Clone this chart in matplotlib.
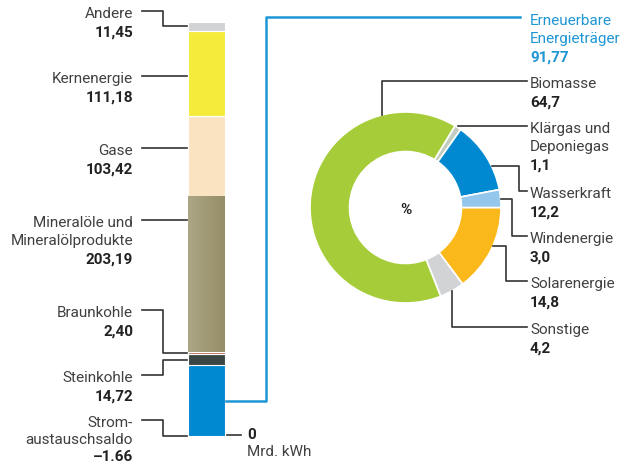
import numpy as np
import matplotlib
matplotlib.use("Agg")
import matplotlib.pyplot as plt
from matplotlib.colors import LinearSegmentedColormap

plt.rcParams['font.family'] = ['Roboto', 'DejaVu Sans']

# Primaerenergieverbrauch in Mrd. kWh, stacked from bottom to top
bar_labels = ['Erneuerbare\nEnergieträger', 'Steinkohle', 'Braunkohle',
              'Mineralöle und\nMineralölprodukte', 'Gase', 'Kernenergie', 'Andere']
bar_values = [91.77, 14.72, 2.40, 203.19, 103.42, 111.18, 11.45]
bar_texts = ['91,77', '14,72', '2,40', '203,19', '103,42', '111,18', '11,45']
bar_colors = ['#0088d0', '#3b4543', '#b5694a', '#a19b77', '#fae3c1', '#f5eb3b', '#d2d3d5']
strom_label = 'Strom-\naustauschsaldo'
strom_value = -1.66
strom_text = '–1.66'

# Anteile der erneuerbaren Energietraeger in %
ren_labels = ['Solarenergie', 'Sonstige', 'Biomasse', 'Klärgas und\nDeponiegas',
              'Wasserkraft', 'Windenergie']
ren_values = [14.8, 4.2, 64.7, 1.1, 12.2, 3.0]
ren_texts = ['14,8', '4,2', '64,7', '1,1', '12,2', '3,0']
ren_colors = ['#fbb81a', '#d2d3d5', '#a6cd39', '#c2ccc0', '#0088d0', '#94c7eb']

W, H = 629, 464
LABEL_C = '#404040'
VALUE_C = '#222222'
LINE_C = '#333333'
BLUE = '#1e96d5'
FS = 11
STEP = 18.4

fig = plt.figure(figsize=(W / 100, H / 100), dpi=100)

# stacked bar
ax_bar = fig.add_axes([188 / W, 1 - 437 / H, 37 / W, 414 / H])
bottoms = np.concatenate([[0], np.cumsum(bar_values)[:-1]])
ax_bar.bar(0, bar_values, width=1, bottom=bottoms, color=bar_colors,
           edgecolor='white', linewidth=0.8)
i_oil = 3
grad = np.linspace(0, 1, 64).reshape(1, -1)
cmap = LinearSegmentedColormap.from_list('oil', ['#aca687', '#968e66'])
ax_bar.imshow(grad, cmap=cmap, aspect='auto', zorder=3,
              extent=(-0.5, 0.5, bottoms[i_oil] + 0.6, bottoms[i_oil] + bar_values[i_oil] - 0.6))
ax_bar.set_xlim(-0.5, 0.5)
ax_bar.set_ylim(0, sum(bar_values))
ax_bar.axis('off')

# donut
cx, cy, r = 405.5, 208.5, 95.5
ax_pie = fig.add_axes([(cx - r) / W, 1 - (cy + r) / H, 2 * r / W, 2 * r / H])
wedges, _ = ax_pie.pie(ren_values, colors=ren_colors, startangle=0, counterclock=False,
                       radius=1, wedgeprops=dict(width=0.414, edgecolor='white', linewidth=1.2))
ax_pie.set_xlim(-1, 1)
ax_pie.set_ylim(-1, 1)

# overlay in pixel coordinates for labels and leaders
ov = fig.add_axes([0, 0, 1, 1], zorder=10)
ov.set_xlim(0, W)
ov.set_ylim(H, 0)
ov.axis('off')


def bar_y(v):
    return H - ax_bar.transData.transform((0, v))[1]


def put_label(x, y0, label, value, ha, color=LABEL_C, vcolor=VALUE_C, step=STEP):
    lines = label.split('\n')
    for k, s in enumerate(lines):
        ov.text(x, y0 + k * step, s, ha=ha, va='baseline', fontsize=FS, color=color)
    ov.text(x, y0 + len(lines) * step, value, ha=ha, va='baseline', fontsize=FS,
            color=vcolor, fontweight='bold')


# left labels (first-line baseline in pixels)
left_base = {1: 382, 2: 317, 3: 227, 4: 155, 5: 83, 6: 18}
for i, yb in left_base.items():
    put_label(133, yb, bar_labels[i], bar_texts[i], 'right')
    ly = yb - 5.8
    top, bot = bar_y(bottoms[i] + bar_values[i]), bar_y(bottoms[i])
    if top <= ly <= bot:
        ov.plot([142, 186.5], [ly, ly], color=LINE_C, lw=1.2)
    else:
        ty = bar_y(bottoms[i] + bar_values[i] / 2)
        ov.plot([142, 163, 163, 186.5], [ly, ly, ty, ty], color=LINE_C, lw=1.2)

put_label(133, 427, strom_label, strom_text, 'right', step=17.2)
ty = bar_y(strom_value / 2) - 1
ov.plot([142, 163, 163, 186.5], [427 - 5.8, 427 - 5.8, ty, ty], color=LINE_C, lw=1.2)

# zero mark
y0 = bar_y(0) - 1.5
ov.plot([226.5, 240.5], [y0, y0], color=LINE_C, lw=1.2)
ov.text(247, 439, '0', ha='left', va='baseline', fontsize=FS, color=VALUE_C, fontweight='bold')
ov.text(247, 456, 'Mrd. kWh', ha='left', va='baseline', fontsize=FS, color=LABEL_C)

# connector to renewables
ry = bar_y(bar_values[0] / 2)
ov.plot([225.5, 266, 266, 520], [ry, ry, 18.3, 18.3], color=BLUE, lw=1.8)
put_label(530, 25, bar_labels[0], bar_texts[0], 'left', color=BLUE, vcolor=BLUE)

ov.text(cx, 210, '%', ha='center', va='center', fontsize=FS, color=VALUE_C, fontweight='bold')

# right labels: baseline, anchor fraction inside wedge, route
right_layout = {
    'Biomasse': (88, 0.195, 'v'),
    'Klärgas und\nDeponiegas': (133, 0.5, 'h'),
    'Wasserkraft': (198, 0.335, 519),
    'Windenergie': (243, 0.5, 512),
    'Solarenergie': (288, 0.55, 506),
    'Sonstige': (334, 0.5, 'v'),
}
for w, lab, txt in zip(wedges, ren_labels, ren_texts):
    yb, frac, route = right_layout[lab]
    put_label(530, yb, lab, txt, 'left')
    ly = yb - 5.6
    ang = np.deg2rad(w.theta1 + frac * (w.theta2 - w.theta1))
    dx, dy = ax_pie.transData.transform((np.cos(ang), np.sin(ang)))
    ax_, ay_ = dx, H - dy
    if route == 'v':
        xs, ys = [ax_, ax_, 527], [ay_, ly, ly]
    elif route == 'h':
        xs, ys = [ax_, 527], [ly, ly]
    else:
        xs, ys = [ax_, route, route, 527], [ay_, ay_, ly, ly]
    ov.plot(xs, ys, color=LINE_C, lw=1.2)

fig.savefig('out.png', dpi=100)
